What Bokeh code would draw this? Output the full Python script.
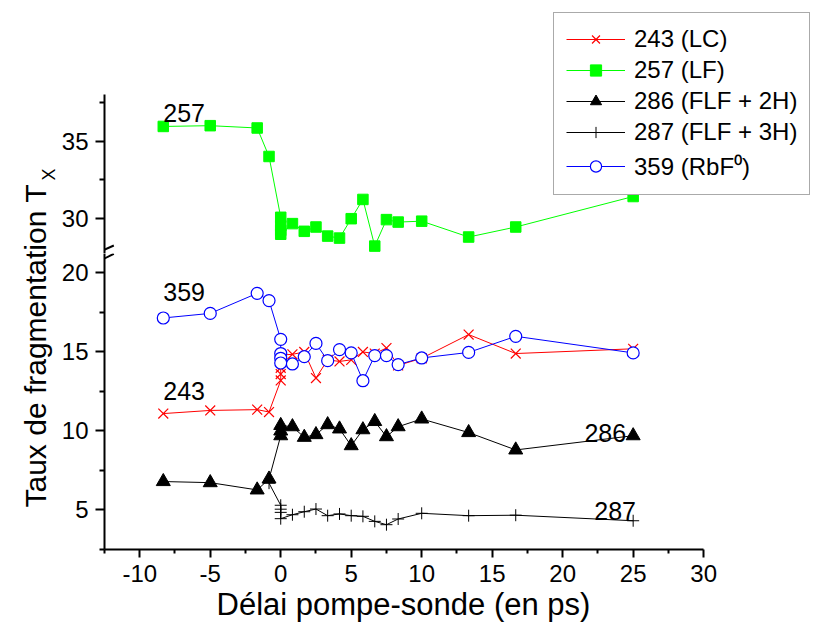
import math
from bokeh.plotting import figure
from bokeh.models import (Range1d, FixedTicker, Label, Legend, LegendItem, Arrow,
                          ColumnDataSource, Title)
from bokeh.layouts import row, column
from bokeh.embed import file_html
from bokeh.resources import INLINE

# ---------------- data ----------------
X_243 = [-8.33, -5.0, -1.67, -0.83, 0, 0, 0, 0, 0.83, 1.67, 2.5, 3.33, 4.17, 5.0,
         5.83, 6.67, 7.5, 8.33, 10.0, 13.33, 16.67, 25.0]
Y_243 = [11.1, 11.3, 11.35, 11.2, 13.2, 13.6, 14.0, 14.8, 14.85, 15.0, 13.35, 14.5,
         14.4, 14.5, 15.0, 14.9, 15.25, 14.15, 14.6, 16.1, 14.9, 15.2]

X_257 = [-8.33, -5.0, -1.67, -0.83, 0, 0, 0, 0, 0.83, 1.67, 2.5, 3.33, 4.17, 5.0,
         5.83, 6.67, 7.5, 8.33, 10.0, 13.33, 16.67, 25.0]
Y_257 = [35.95, 36.0, 35.85, 34.0, 30.05, 29.5, 29.2, 28.95, 29.64, 29.14, 29.42,
         28.83, 28.7, 29.96, 31.21, 28.18, 29.9, 29.74, 29.8, 28.77, 29.42, 31.4]

X_286 = [-8.33, -5.0, -1.67, -0.83, 0, 0, 0, 0.83, 1.67, 2.5, 3.33, 4.17, 5.0,
         5.83, 6.67, 7.5, 8.33, 10.0, 13.33, 16.67, 25.0]
Y_286 = [6.8, 6.73, 6.27, 6.96, 9.7, 10.0, 10.35, 10.27, 9.6, 9.77, 10.4, 10.13,
         9.07, 10.08, 10.6, 9.64, 10.27, 10.76, 9.9, 8.8, 9.7]

X_287 = [-0.83, 0, 0, 0, 0, 0.83, 1.67, 2.5, 3.33, 4.17, 5.0, 5.83, 6.67, 7.5,
         8.33, 10.0, 13.33, 16.67, 25.0]
Y_287 = [6.7, 5.3, 5.05, 4.85, 4.45, 4.7, 4.89, 5.06, 4.64, 4.75, 4.64, 4.6, 4.28,
         4.07, 4.43, 4.79, 4.64, 4.67, 4.32]

X_359 = [-8.33, -5.0, -1.67, -0.83, 0, 0, 0, 0, 0.83, 1.67, 2.5, 3.33, 4.17, 5.0,
         5.83, 6.67, 7.5, 8.33, 10.0, 13.33, 16.67, 25.0]
Y_359 = [17.15, 17.44, 18.71, 18.25, 15.8, 14.9, 14.6, 14.3, 14.24, 14.7, 15.54,
         14.45, 15.15, 14.94, 13.18, 14.77, 14.77, 14.2, 14.62, 14.97, 15.99, 14.94]

LEGEND_LABELS = ["243 (LC)", "257 (LF)", "286 (FLF + 2H)", "287 (FLF + 3H)", "359 (RbF⁰)"]

X_TICKS = [-10, -5, 0, 5, 10, 15, 20, 25, 30]
X_MINOR = [-12.5, -7.5, -2.5, 2.5, 7.5, 12.5, 17.5, 22.5, 27.5]
Y_TICKS_LOW = [5, 10, 15, 20]
Y_MINOR_LOW = [2.5, 7.5, 12.5, 17.5]
Y_TICKS_UP = [30, 35]
Y_MINOR_UP = [32.5, 37.5]

X_TITLE = "Délai pompe-sonde (en ps)"
Y_TITLE = "Taux de fragmentation T"
Y_TITLE_SUB = "X"

# ---------------- layout / style ----------------
FONT = "Liberation Sans"
X_AXIS = (-12.5, 30)          # drawn x axis
UP_AXIS = (27.7, 38)          # visible part of the upper (broken) axis
LOW_RANGE = (2.5, 21.23)

LEFT_W = 58                   # y-title strip
PLOT_W = 758
BORDER_L = 45
AXIS_W = 600                  # pixel length of the drawn x axis
UP_H = 253
LOW_H = 373
LOW_BORDER_B = 77
UP_PX_PER_UNIT = 15.4

RED, GREEN, BLACK, BLUE = "#FF0000", "#00FF00", "#000000", "#0000FF"

# frames extend right of the x axis (and above the upper axis) so that the
# legend, which Bokeh clips to the frame, has room; the axes keep their bounds
frame_w = PLOT_W - BORDER_L
x_end = X_AXIS[0] + (X_AXIS[1] - X_AXIS[0]) * frame_w / AXIS_W
y_up_end = UP_AXIS[0] + UP_H / UP_PX_PER_UNIT
xr = Range1d(X_AXIS[0], x_end)


def style_axis(ax, tick_out, minor_out, standoff):
    ax.axis_line_width = 2
    ax.axis_line_color = "black"
    ax.major_tick_line_width = 2
    ax.minor_tick_line_width = 2
    ax.major_tick_line_color = "black"
    ax.minor_tick_line_color = "black"
    ax.major_tick_in = 0
    ax.major_tick_out = tick_out
    ax.minor_tick_in = 0
    ax.minor_tick_out = minor_out
    ax.major_label_standoff = standoff
    ax.major_label_text_font = FONT
    ax.major_label_text_font_size = "24px"
    ax.major_label_text_color = "black"


# ---- upper panel (broken axis: top part) ----
up = figure(width=PLOT_W, height=UP_H, x_range=xr, y_range=Range1d(UP_AXIS[0], y_up_end),
            x_axis_location=None, toolbar_location=None, output_backend="svg",
            min_border_left=BORDER_L, min_border_right=0, min_border_top=0,
            min_border_bottom=0, title=None, outline_line_color=None)
up.grid.visible = False
style_axis(up.yaxis[0], 9, 5, 7)
up.yaxis[0].ticker = FixedTicker(ticks=Y_TICKS_UP, minor_ticks=Y_MINOR_UP)
up.yaxis[0].bounds = UP_AXIS

# ---- lower panel ----
low = figure(width=PLOT_W, height=LOW_H, x_range=xr, y_range=Range1d(*LOW_RANGE),
             toolbar_location=None, output_backend="svg",
             min_border_left=BORDER_L, min_border_right=0,
             min_border_top=0, min_border_bottom=LOW_BORDER_B, title=None,
             outline_line_color=None)
low.grid.visible = False
style_axis(low.yaxis[0], 9, 5, 7)
low.yaxis[0].ticker = FixedTicker(ticks=Y_TICKS_LOW, minor_ticks=Y_MINOR_LOW)
xa = low.xaxis[0]
style_axis(xa, 8, 4, 7)
xa.bounds = X_AXIS
xa.ticker = FixedTicker(ticks=X_TICKS, minor_ticks=X_MINOR)
xa.major_label_overrides = {t: str(t) for t in X_TICKS}

# x-axis title, centred under the drawn axis (the frame runs further right)
x_title = Title(text=X_TITLE, align="left", offset=112, standoff=0,
                text_font=FONT, text_font_size="31px", text_font_style="normal",
                text_color="black")
low.add_layout(x_title, "below")

# ---- series ----
src = {
    "243": ColumnDataSource(dict(x=X_243, y=Y_243)),
    "257": ColumnDataSource(dict(x=X_257, y=Y_257)),
    "286": ColumnDataSource(dict(x=X_286, y=Y_286)),
    "287": ColumnDataSource(dict(x=X_287, y=Y_287)),
    "359": ColumnDataSource(dict(x=X_359, y=Y_359)),
}
STYLE = {
    "243": dict(color=RED, marker="x", size=14, fill=None, lw=1.2),
    "257": dict(color=GREEN, marker="square", size=10.5, fill=GREEN, lw=1),
    "286": dict(color=BLACK, marker="triangle", size=14, fill=BLACK, lw=1),
    "287": dict(color=BLACK, marker="cross", size=12, fill=None, lw=1),
    "359": dict(color=BLUE, marker="circle", size=12, fill="white", lw=1.2),
}


def draw(p, key):
    st = STYLE[key]
    ln = p.line("x", "y", source=src[key], line_color=st["color"], line_width=1)
    sc = p.scatter("x", "y", source=src[key], marker=st["marker"], size=st["size"],
                   fill_color=st["fill"], line_color=st["color"], line_width=st["lw"])
    return [ln, sc]


ORDER = ["243", "257", "286", "287", "359"]
legend_renderers = {}
for key in ORDER:
    if key == "257":
        legend_renderers[key] = draw(up, key)
    else:
        draw(low, key)
        # same data in the upper panel: it lies below that panel's range (not
        # visible) and only feeds the legend there
        legend_renderers[key] = draw(up, key)

legend = Legend(items=[LegendItem(label=lab_txt, renderers=legend_renderers[k])
                       for k, lab_txt in zip(ORDER, LEGEND_LABELS)],
                location=(449, 58))
legend.label_text_font = FONT
legend.label_text_font_size = "24px"
legend.label_text_color = "black"
legend.glyph_width = 59
legend.glyph_height = 28
legend.label_height = 28
legend.label_standoff = 9
legend.spacing = 3
legend.padding = 12
legend.margin = 0
legend.border_line_color = "#555555"
legend.border_line_width = 1.5
legend.background_fill_color = "white"
legend.background_fill_alpha = 1.0
up.add_layout(legend)

# ---- text labels inside the plot ----
def tlabel(p, x, y, text, align):
    p.add_layout(Label(x=x, y=y, text=text, text_align=align,
                       text_baseline="alphabetic", text_font=FONT,
                       text_font_size="25px", text_color="black"))

tlabel(up, -8.33, 36.8, "257", "left")
tlabel(low, -8.33, 18.8, "359", "left")
tlabel(low, -8.33, 12.5, "243", "left")
tlabel(low, 24.5, 9.9, "286", "right")
tlabel(low, 25.2, 4.95, "287", "right")

# ---- axis break marks ----
up.add_layout(Arrow(end=None, x_start=-13.14, y_start=27.68, x_end=-11.84, y_end=28.22,
                    line_color="black", line_width=2))
low.add_layout(Arrow(end=None, x_start=-13.02, y_start=20.68, x_end=-11.84, y_end=21.21,
                     line_color="black", line_width=2))

# ---- y-axis title (spans both panels) ----
TOT_H = UP_H + LOW_H
lab = figure(width=LEFT_W, height=TOT_H, x_range=Range1d(0, LEFT_W),
             y_range=Range1d(0, TOT_H),
             x_axis_location=None, y_axis_location=None, toolbar_location=None,
             output_backend="svg", min_border=0, title=None, outline_line_color=None)
lab.grid.visible = False
lab.add_layout(Label(x=35, y=TOT_H - 507, text=Y_TITLE, angle=math.pi / 2,
                     text_align="left", text_baseline="alphabetic", text_font=FONT,
                     text_font_size="30px", text_color="black"))
lab.add_layout(Label(x=48, y=TOT_H - 180, text=Y_TITLE_SUB, angle=math.pi / 2,
                     text_align="left", text_baseline="alphabetic", text_font=FONT,
                     text_font_size="18px", text_color="black"))

layout = row(lab, column(up, low))
open("out.html", "w").write(file_html(layout, INLINE))
